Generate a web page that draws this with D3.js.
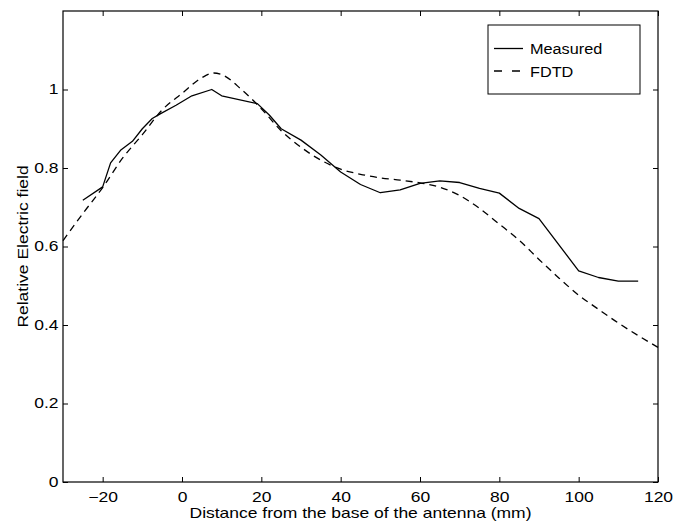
<!DOCTYPE html>
<html>
<head>
<meta charset="utf-8">
<script src="https://cdn.jsdelivr.net/npm/d3@7"></script>
<style>
  html, body { margin: 0; padding: 0; background: #fff; }
  svg { display: block; }
  text { font-family: "Liberation Sans", Arial, Helvetica, sans-serif; fill: #000; }
</style>
</head>
<body>
<svg id="chart" width="684" height="523"></svg>
<script>
// Data
const measuredX = [-25, -20, -18, -15.5, -12.5, -10, -7.5, -5.5, -1.5, 2.5, 7.5, 10, 19, 22, 25, 30, 35, 40, 45, 50, 55, 60, 65, 70, 75, 80, 85, 90, 100, 105, 110, 115];
const measuredY = [0.718, 0.752, 0.813, 0.845, 0.868, 0.90, 0.926, 0.938, 0.96, 0.984, 1.0, 0.984, 0.964, 0.935, 0.90, 0.871, 0.833, 0.79, 0.758, 0.737, 0.744, 0.761, 0.767, 0.763, 0.748, 0.736, 0.697, 0.671, 0.538, 0.521, 0.512, 0.512];
const fdtdX = [-30, -25, -20, -15, -10, -5, 0, 5, 8, 10, 15, 20, 25, 30, 35, 40, 45, 50, 55, 60, 65, 70, 75, 80, 85, 90, 95, 100, 105, 110, 115, 120];
const fdtdY = [0.615, 0.684, 0.75, 0.825, 0.885, 0.948, 0.99, 1.03, 1.042, 1.038, 1.0, 0.951, 0.895, 0.853, 0.82, 0.797, 0.784, 0.775, 0.769, 0.762, 0.751, 0.73, 0.697, 0.657, 0.616, 0.567, 0.52, 0.476, 0.44, 0.405, 0.373, 0.343];
const xTicks = [-20, 0, 20, 40, 60, 80, 100, 120];
const yTicks = [0, 0.2, 0.4, 0.6, 0.8, 1];
const seriesNames = ["Measured", "FDTD"];
const xLabel = "Distance from the base of the antenna (mm)";
const yLabel = "Relative Electric field";

const svg = d3.select("#chart");
const L = 63, R = 658, T = 11, B = 482;
const SX = 1.25; // horizontal stretch of the reference lettering
const x = d3.scaleLinear().domain([-30, 120]).range([L, R]);
const y = d3.scaleLinear().domain([0, 1.2]).range([B, T]);

const fmtY = d => String(+d.toFixed(1));

// axes with inward ticks
const gx = svg.append("g").attr("transform", `translate(0,${B})`)
  .call(d3.axisBottom(x).tickValues(xTicks).tickSizeInner(-5).tickSizeOuter(0).tickPadding(10));
const gxt = svg.append("g").attr("transform", `translate(0,${T})`)
  .call(d3.axisTop(x).tickValues(xTicks).tickSizeInner(-5).tickSizeOuter(0).tickFormat(""));
const gy = svg.append("g").attr("transform", `translate(${L},0)`)
  .call(d3.axisLeft(y).tickValues(yTicks).tickSizeInner(-5).tickSizeOuter(0).tickPadding(3.6).tickFormat(fmtY));
const gyr = svg.append("g").attr("transform", `translate(${R},0)`)
  .call(d3.axisRight(y).tickValues(yTicks).tickSizeInner(-5).tickSizeOuter(0).tickFormat(""));

[gx, gxt, gy, gyr].forEach(g => {
  g.select(".domain").remove();
  g.selectAll(".tick line").attr("stroke", "#000").attr("stroke-width", 1);
  g.selectAll(".tick text").attr("font-size", 14).attr("font-family", "Liberation Sans, Arial, sans-serif")
    .attr("fill", "#000").attr("transform", `scale(${SX},1)`);
});

// frame
svg.append("rect").attr("x", L).attr("y", T).attr("width", R - L).attr("height", B - T)
  .attr("fill", "none").attr("stroke", "#000").attr("stroke-width", 1.2);

// lines
const measured = measuredX.map((v, i) => [v, measuredY[i]]);
const fdtd = fdtdX.map((v, i) => [v, fdtdY[i]]);

const lineLin = d3.line().x(d => x(d[0])).y(d => y(d[1]));
const lineSmooth = d3.line().x(d => x(d[0])).y(d => y(d[1])).curve(d3.curveMonotoneX);

svg.append("path").datum(fdtd).attr("d", lineSmooth)
  .attr("fill", "none").attr("stroke", "#000").attr("stroke-width", 1.3)
  .attr("stroke-dasharray", "7,5");
svg.append("path").datum(measured).attr("d", lineLin)
  .attr("fill", "none").attr("stroke", "#000").attr("stroke-width", 1.3)
  .attr("stroke-linejoin", "round");

// axis titles
svg.append("text").attr("transform", `translate(${(L + R) / 2},518) scale(${SX},1)`)
  .attr("text-anchor", "middle").attr("font-size", 14).text(xLabel);
svg.append("text").attr("transform", `translate(28,${(T + B) / 2}) rotate(-90) scale(${SX},1)`)
  .attr("text-anchor", "middle").attr("font-size", 14).text(yLabel);

// legend
const lg = svg.append("g");
lg.append("rect").attr("x", 488).attr("y", 25).attr("width", 152).attr("height", 69)
  .attr("fill", "#fff").attr("stroke", "#000").attr("stroke-width", 1);
const legY = [48.5, 71];
const dashes = [null, "8,10"];
seriesNames.forEach((name, i) => {
  const ln = lg.append("line").attr("x1", 494).attr("x2", 523).attr("y1", legY[i]).attr("y2", legY[i])
    .attr("stroke", "#000").attr("stroke-width", 1.3);
  if (dashes[i]) ln.attr("stroke-dasharray", dashes[i]);
  lg.append("text").attr("transform", `translate(530,${legY[i] + 5.5}) scale(1.16,1)`)
    .attr("font-size", 14).text(name);
});
</script>
</body>
</html>
